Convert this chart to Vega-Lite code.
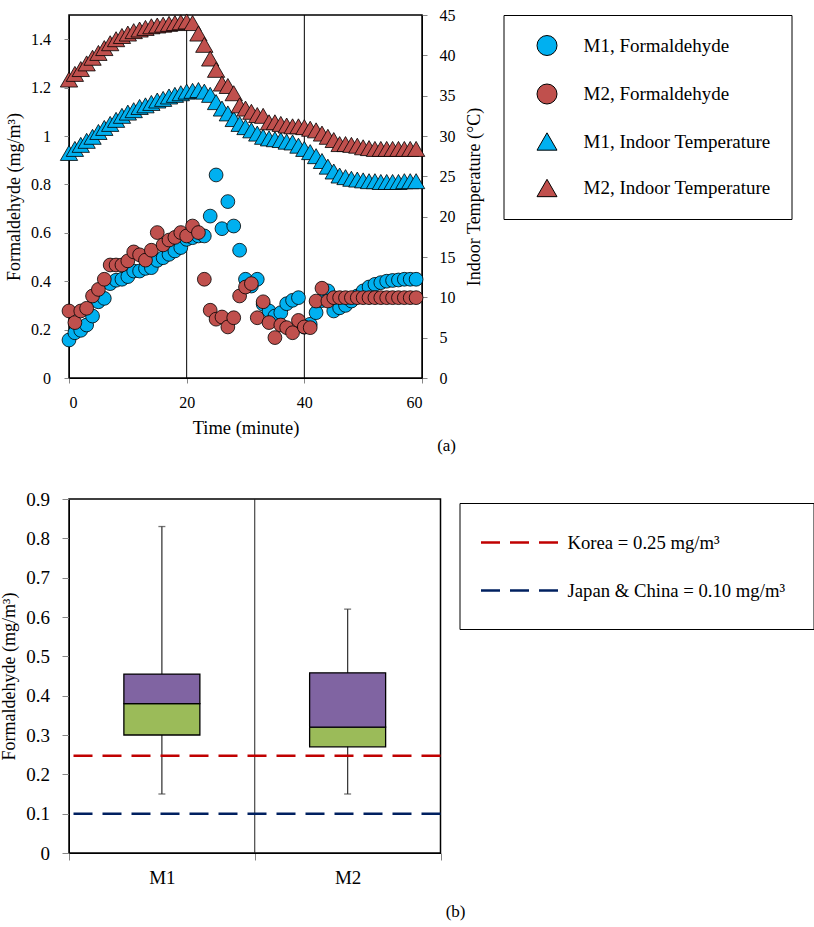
{
"$schema": "https://vega.github.io/schema/vega-lite/v6.json",
"padding": {"left": 0, "top": 6, "right": 5, "bottom": 5},
"spacing": 34,
"config": {
  "font": "Liberation Serif",
  "view": {"stroke": "#000", "strokeWidth": 1.5},
  "axis": {"labelFont": "Liberation Serif", "titleFont": "Liberation Serif", "labelColor": "#000", "titleColor": "#000", "titleFontWeight": "normal", "grid": false, "domainColor": "#000", "tickColor": "#868686"},
  "legend": {"labelFont": "Liberation Serif", "labelColor": "#000"},
  "title": {"font": "Liberation Serif", "fontWeight": "normal", "fontSize": 17, "color": "#000"}
},
"datasets": {
  "form": [
    {"t":0,"series":"M1, Formaldehyde","v":0.157},{"t":1,"series":"M1, Formaldehyde","v":0.187},{"t":2,"series":"M1, Formaldehyde","v":0.197},{"t":3,"series":"M1, Formaldehyde","v":0.219},{"t":4,"series":"M1, Formaldehyde","v":0.256},{"t":5,"series":"M1, Formaldehyde","v":0.315},{"t":6,"series":"M1, Formaldehyde","v":0.329},{"t":7,"series":"M1, Formaldehyde","v":0.39},{"t":8,"series":"M1, Formaldehyde","v":0.404},{"t":9,"series":"M1, Formaldehyde","v":0.408},
    {"t":10,"series":"M1, Formaldehyde","v":0.419},{"t":11,"series":"M1, Formaldehyde","v":0.442},{"t":12,"series":"M1, Formaldehyde","v":0.442},{"t":13,"series":"M1, Formaldehyde","v":0.453},{"t":14,"series":"M1, Formaldehyde","v":0.456},{"t":15,"series":"M1, Formaldehyde","v":0.486},{"t":16,"series":"M1, Formaldehyde","v":0.497},{"t":17,"series":"M1, Formaldehyde","v":0.511},{"t":18,"series":"M1, Formaldehyde","v":0.525},{"t":19,"series":"M1, Formaldehyde","v":0.539},
    {"t":20,"series":"M1, Formaldehyde","v":0.573},{"t":21,"series":"M1, Formaldehyde","v":0.58},{"t":22,"series":"M1, Formaldehyde","v":0.587},{"t":23,"series":"M1, Formaldehyde","v":0.587},{"t":24,"series":"M1, Formaldehyde","v":0.669},{"t":25,"series":"M1, Formaldehyde","v":0.839},{"t":26,"series":"M1, Formaldehyde","v":0.617},{"t":27,"series":"M1, Formaldehyde","v":0.729},{"t":28,"series":"M1, Formaldehyde","v":0.628},{"t":29,"series":"M1, Formaldehyde","v":0.528},
    {"t":30,"series":"M1, Formaldehyde","v":0.408},{"t":31,"series":"M1, Formaldehyde","v":0.38},{"t":32,"series":"M1, Formaldehyde","v":0.408},{"t":33,"series":"M1, Formaldehyde","v":0.305},{"t":34,"series":"M1, Formaldehyde","v":0.277},{"t":35,"series":"M1, Formaldehyde","v":0.256},{"t":36,"series":"M1, Formaldehyde","v":0.27},{"t":37,"series":"M1, Formaldehyde","v":0.307},{"t":38,"series":"M1, Formaldehyde","v":0.321},{"t":39,"series":"M1, Formaldehyde","v":0.332},
    {"t":40,"series":"M1, Formaldehyde","v":0.21},{"t":41,"series":"M1, Formaldehyde","v":0.222},{"t":42,"series":"M1, Formaldehyde","v":0.27},{"t":43,"series":"M1, Formaldehyde","v":0.32},{"t":44,"series":"M1, Formaldehyde","v":0.36},{"t":45,"series":"M1, Formaldehyde","v":0.277},{"t":46,"series":"M1, Formaldehyde","v":0.29},{"t":47,"series":"M1, Formaldehyde","v":0.3},{"t":48,"series":"M1, Formaldehyde","v":0.318},{"t":49,"series":"M1, Formaldehyde","v":0.339},
    {"t":50,"series":"M1, Formaldehyde","v":0.36},{"t":51,"series":"M1, Formaldehyde","v":0.376},{"t":52,"series":"M1, Formaldehyde","v":0.387},{"t":53,"series":"M1, Formaldehyde","v":0.394},{"t":54,"series":"M1, Formaldehyde","v":0.4},{"t":55,"series":"M1, Formaldehyde","v":0.403},{"t":56,"series":"M1, Formaldehyde","v":0.405},{"t":57,"series":"M1, Formaldehyde","v":0.408},{"t":58,"series":"M1, Formaldehyde","v":0.408},{"t":59,"series":"M1, Formaldehyde","v":0.408},
    {"t":0,"series":"M2, Formaldehyde","v":0.277},{"t":1,"series":"M2, Formaldehyde","v":0.229},{"t":2,"series":"M2, Formaldehyde","v":0.277},{"t":3,"series":"M2, Formaldehyde","v":0.288},{"t":4,"series":"M2, Formaldehyde","v":0.339},{"t":5,"series":"M2, Formaldehyde","v":0.366},{"t":6,"series":"M2, Formaldehyde","v":0.408},{"t":7,"series":"M2, Formaldehyde","v":0.467},{"t":8,"series":"M2, Formaldehyde","v":0.467},{"t":9,"series":"M2, Formaldehyde","v":0.467},
    {"t":10,"series":"M2, Formaldehyde","v":0.484},{"t":11,"series":"M2, Formaldehyde","v":0.521},{"t":12,"series":"M2, Formaldehyde","v":0.509},{"t":13,"series":"M2, Formaldehyde","v":0.487},{"t":14,"series":"M2, Formaldehyde","v":0.528},{"t":15,"series":"M2, Formaldehyde","v":0.601},{"t":16,"series":"M2, Formaldehyde","v":0.55},{"t":17,"series":"M2, Formaldehyde","v":0.57},{"t":18,"series":"M2, Formaldehyde","v":0.581},{"t":19,"series":"M2, Formaldehyde","v":0.601},
    {"t":20,"series":"M2, Formaldehyde","v":0.587},{"t":21,"series":"M2, Formaldehyde","v":0.628},{"t":22,"series":"M2, Formaldehyde","v":0.601},{"t":23,"series":"M2, Formaldehyde","v":0.408},{"t":24,"series":"M2, Formaldehyde","v":0.28},{"t":25,"series":"M2, Formaldehyde","v":0.243},{"t":26,"series":"M2, Formaldehyde","v":0.252},{"t":27,"series":"M2, Formaldehyde","v":0.211},{"t":28,"series":"M2, Formaldehyde","v":0.249},{"t":29,"series":"M2, Formaldehyde","v":0.339},
    {"t":30,"series":"M2, Formaldehyde","v":0.376},{"t":31,"series":"M2, Formaldehyde","v":0.39},{"t":32,"series":"M2, Formaldehyde","v":0.249},{"t":33,"series":"M2, Formaldehyde","v":0.315},{"t":34,"series":"M2, Formaldehyde","v":0.229},{"t":35,"series":"M2, Formaldehyde","v":0.167},{"t":36,"series":"M2, Formaldehyde","v":0.219},{"t":37,"series":"M2, Formaldehyde","v":0.208},{"t":38,"series":"M2, Formaldehyde","v":0.187},{"t":39,"series":"M2, Formaldehyde","v":0.238},
    {"t":40,"series":"M2, Formaldehyde","v":0.211},{"t":41,"series":"M2, Formaldehyde","v":0.208},{"t":42,"series":"M2, Formaldehyde","v":0.318},{"t":43,"series":"M2, Formaldehyde","v":0.371},{"t":44,"series":"M2, Formaldehyde","v":0.318},{"t":45,"series":"M2, Formaldehyde","v":0.332},{"t":46,"series":"M2, Formaldehyde","v":0.332},{"t":47,"series":"M2, Formaldehyde","v":0.332},{"t":48,"series":"M2, Formaldehyde","v":0.332},{"t":49,"series":"M2, Formaldehyde","v":0.332},
    {"t":50,"series":"M2, Formaldehyde","v":0.332},{"t":51,"series":"M2, Formaldehyde","v":0.332},{"t":52,"series":"M2, Formaldehyde","v":0.332},{"t":53,"series":"M2, Formaldehyde","v":0.332},{"t":54,"series":"M2, Formaldehyde","v":0.332},{"t":55,"series":"M2, Formaldehyde","v":0.332},{"t":56,"series":"M2, Formaldehyde","v":0.332},{"t":57,"series":"M2, Formaldehyde","v":0.332},{"t":58,"series":"M2, Formaldehyde","v":0.332},{"t":59,"series":"M2, Formaldehyde","v":0.332}
  ],
  "temp": [
    {"t":0,"series":"M1, Indoor Temperature","v":27.9},{"t":1,"series":"M1, Indoor Temperature","v":28.4},{"t":2,"series":"M1, Indoor Temperature","v":28.9},{"t":3,"series":"M1, Indoor Temperature","v":29.4},{"t":4,"series":"M1, Indoor Temperature","v":29.9},{"t":5,"series":"M1, Indoor Temperature","v":30.5},{"t":6,"series":"M1, Indoor Temperature","v":31.0},{"t":7,"series":"M1, Indoor Temperature","v":31.5},{"t":8,"series":"M1, Indoor Temperature","v":32.0},{"t":9,"series":"M1, Indoor Temperature","v":32.5},
    {"t":10,"series":"M1, Indoor Temperature","v":32.9},{"t":11,"series":"M1, Indoor Temperature","v":33.2},{"t":12,"series":"M1, Indoor Temperature","v":33.6},{"t":13,"series":"M1, Indoor Temperature","v":33.8},{"t":14,"series":"M1, Indoor Temperature","v":34.1},{"t":15,"series":"M1, Indoor Temperature","v":34.4},{"t":16,"series":"M1, Indoor Temperature","v":34.6},{"t":17,"series":"M1, Indoor Temperature","v":34.9},{"t":18,"series":"M1, Indoor Temperature","v":35.1},{"t":19,"series":"M1, Indoor Temperature","v":35.3},
    {"t":20,"series":"M1, Indoor Temperature","v":35.5},{"t":21,"series":"M1, Indoor Temperature","v":35.6},{"t":22,"series":"M1, Indoor Temperature","v":35.7},{"t":23,"series":"M1, Indoor Temperature","v":35.5},{"t":24,"series":"M1, Indoor Temperature","v":35.1},{"t":25,"series":"M1, Indoor Temperature","v":34.2},{"t":26,"series":"M1, Indoor Temperature","v":33.4},{"t":27,"series":"M1, Indoor Temperature","v":32.8},{"t":28,"series":"M1, Indoor Temperature","v":32.1},{"t":29,"series":"M1, Indoor Temperature","v":31.5},
    {"t":30,"series":"M1, Indoor Temperature","v":31.1},{"t":31,"series":"M1, Indoor Temperature","v":30.7},{"t":32,"series":"M1, Indoor Temperature","v":30.3},{"t":33,"series":"M1, Indoor Temperature","v":29.9},{"t":34,"series":"M1, Indoor Temperature","v":29.7},{"t":35,"series":"M1, Indoor Temperature","v":29.6},{"t":36,"series":"M1, Indoor Temperature","v":29.5},{"t":37,"series":"M1, Indoor Temperature","v":29.3},{"t":38,"series":"M1, Indoor Temperature","v":29.2},{"t":39,"series":"M1, Indoor Temperature","v":28.8},
    {"t":40,"series":"M1, Indoor Temperature","v":28.4},{"t":41,"series":"M1, Indoor Temperature","v":28.0},{"t":42,"series":"M1, Indoor Temperature","v":27.5},{"t":43,"series":"M1, Indoor Temperature","v":26.9},{"t":44,"series":"M1, Indoor Temperature","v":26.2},{"t":45,"series":"M1, Indoor Temperature","v":25.6},{"t":46,"series":"M1, Indoor Temperature","v":25.1},{"t":47,"series":"M1, Indoor Temperature","v":24.9},{"t":48,"series":"M1, Indoor Temperature","v":24.7},{"t":49,"series":"M1, Indoor Temperature","v":24.6},
    {"t":50,"series":"M1, Indoor Temperature","v":24.5},{"t":51,"series":"M1, Indoor Temperature","v":24.4},{"t":52,"series":"M1, Indoor Temperature","v":24.4},{"t":53,"series":"M1, Indoor Temperature","v":24.3},{"t":54,"series":"M1, Indoor Temperature","v":24.3},{"t":55,"series":"M1, Indoor Temperature","v":24.3},{"t":56,"series":"M1, Indoor Temperature","v":24.3},{"t":57,"series":"M1, Indoor Temperature","v":24.4},{"t":58,"series":"M1, Indoor Temperature","v":24.4},{"t":59,"series":"M1, Indoor Temperature","v":24.4},
    {"t":0,"series":"M2, Indoor Temperature","v":37.0},{"t":1,"series":"M2, Indoor Temperature","v":37.7},{"t":2,"series":"M2, Indoor Temperature","v":38.3},{"t":3,"series":"M2, Indoor Temperature","v":39.0},{"t":4,"series":"M2, Indoor Temperature","v":39.7},{"t":5,"series":"M2, Indoor Temperature","v":40.3},{"t":6,"series":"M2, Indoor Temperature","v":40.9},{"t":7,"series":"M2, Indoor Temperature","v":41.5},{"t":8,"series":"M2, Indoor Temperature","v":42.0},{"t":9,"series":"M2, Indoor Temperature","v":42.4},
    {"t":10,"series":"M2, Indoor Temperature","v":42.7},{"t":11,"series":"M2, Indoor Temperature","v":43.0},{"t":12,"series":"M2, Indoor Temperature","v":43.2},{"t":13,"series":"M2, Indoor Temperature","v":43.4},{"t":14,"series":"M2, Indoor Temperature","v":43.6},{"t":15,"series":"M2, Indoor Temperature","v":43.7},{"t":16,"series":"M2, Indoor Temperature","v":43.8},{"t":17,"series":"M2, Indoor Temperature","v":43.9},{"t":18,"series":"M2, Indoor Temperature","v":44.0},{"t":19,"series":"M2, Indoor Temperature","v":44.1},
    {"t":20,"series":"M2, Indoor Temperature","v":44.2},{"t":21,"series":"M2, Indoor Temperature","v":44.0},{"t":22,"series":"M2, Indoor Temperature","v":42.7},{"t":23,"series":"M2, Indoor Temperature","v":41.3},{"t":24,"series":"M2, Indoor Temperature","v":39.6},{"t":25,"series":"M2, Indoor Temperature","v":38.2},{"t":26,"series":"M2, Indoor Temperature","v":36.5},{"t":27,"series":"M2, Indoor Temperature","v":36.2},{"t":28,"series":"M2, Indoor Temperature","v":35.3},{"t":29,"series":"M2, Indoor Temperature","v":33.8},
    {"t":30,"series":"M2, Indoor Temperature","v":33.4},{"t":31,"series":"M2, Indoor Temperature","v":33.0},{"t":32,"series":"M2, Indoor Temperature","v":32.6},{"t":33,"series":"M2, Indoor Temperature","v":32.5},{"t":34,"series":"M2, Indoor Temperature","v":31.7},{"t":35,"series":"M2, Indoor Temperature","v":31.7},{"t":36,"series":"M2, Indoor Temperature","v":31.5},{"t":37,"series":"M2, Indoor Temperature","v":31.3},{"t":38,"series":"M2, Indoor Temperature","v":31.2},{"t":39,"series":"M2, Indoor Temperature","v":31.2},
    {"t":40,"series":"M2, Indoor Temperature","v":31.1},{"t":41,"series":"M2, Indoor Temperature","v":30.9},{"t":42,"series":"M2, Indoor Temperature","v":30.7},{"t":43,"series":"M2, Indoor Temperature","v":30.3},{"t":44,"series":"M2, Indoor Temperature","v":29.9},{"t":45,"series":"M2, Indoor Temperature","v":29.5},{"t":46,"series":"M2, Indoor Temperature","v":29.0},{"t":47,"series":"M2, Indoor Temperature","v":29.0},{"t":48,"series":"M2, Indoor Temperature","v":28.9},{"t":49,"series":"M2, Indoor Temperature","v":28.8},
    {"t":50,"series":"M2, Indoor Temperature","v":28.6},{"t":51,"series":"M2, Indoor Temperature","v":28.5},{"t":52,"series":"M2, Indoor Temperature","v":28.4},{"t":53,"series":"M2, Indoor Temperature","v":28.4},{"t":54,"series":"M2, Indoor Temperature","v":28.4},{"t":55,"series":"M2, Indoor Temperature","v":28.4},{"t":56,"series":"M2, Indoor Temperature","v":28.4},{"t":57,"series":"M2, Indoor Temperature","v":28.4},{"t":58,"series":"M2, Indoor Temperature","v":28.4},{"t":59,"series":"M2, Indoor Temperature","v":28.4}
  ],
  "box": [
    {"group":"M1","min":0.15,"q1":0.30,"median":0.38,"q3":0.455,"max":0.83},
    {"group":"M2","min":0.15,"q1":0.27,"median":0.32,"q3":0.458,"max":0.62}
  ],
  "std": [
    {"standard":"Korea = 0.25 mg/m³","level":0.247},
    {"standard":"Japan & China = 0.10 mg/m³","level":0.1}
  ]
},
"vconcat": [
  {
    "width": 353, "height": 363,
    "title": {"text": "(a)", "orient": "bottom", "anchor": "end", "frame": "group", "dx": 34, "offset": 1},
    "layer": [
      {
        "data": {"values": [{"t": 20}, {"t": 40}]},
        "mark": {"type": "rule", "color": "#000", "strokeWidth": 1},
        "encoding": {
          "x": {"field": "t", "type": "quantitative", "scale": {"domain": [0, 60], "nice": false},
                "axis": {"values": [0, 20, 40, 60], "title": "Time (minute)", "labelFontSize": 16, "titleFontSize": 18.5, "tickSize": 5, "labelPadding": 11, "titlePadding": 8, "labelAngle": 0}}
        }
      },
      {
        "data": {"name": "temp"},
        "mark": {"type": "point", "filled": true, "opacity": 1, "stroke": "#000", "strokeWidth": 0.8, "size": 300},
        "encoding": {
          "x": {"field": "t", "type": "quantitative", "scale": {"domain": [0, 60], "nice": false},
                "axis": {"values": [0, 20, 40, 60], "title": "Time (minute)", "labelFontSize": 16, "titleFontSize": 18.5, "tickSize": 5, "labelPadding": 11, "titlePadding": 8, "labelAngle": 0}},
          "y": {"field": "v", "type": "quantitative", "scale": {"domain": [0, 45], "nice": false},
                "axis": {"orient": "right", "values": [0, 5, 10, 15, 20, 25, 30, 35, 40, 45], "title": "Indoor Temperature (°C)", "titleAngle": 270, "titleBaseline": "top", "labelFontSize": 16, "titleFontSize": 18, "tickSize": 5, "labelPadding": 12, "titlePadding": 10}},
          "color": {"field": "series", "type": "nominal",
                    "scale": {"domain": ["M1, Formaldehyde", "M2, Formaldehyde", "M1, Indoor Temperature", "M2, Indoor Temperature"], "range": ["#00B0F0", "#C0504D", "#00B0F0", "#C0504D"]},
                    "legend": {"orient": "none", "legendX": 434.5, "legendY": 0, "title": null, "symbolSize": 400, "symbolStrokeColor": "#000", "symbolStrokeWidth": 1, "labelFontSize": 19, "labelOffset": 26, "symbolOffset": 13, "padding": 20, "rowPadding": 23.5, "strokeColor": "#000", "fillColor": "#fff", "labelLimit": 400}},
          "shape": {"field": "series", "type": "nominal",
                    "scale": {"domain": ["M1, Formaldehyde", "M2, Formaldehyde", "M1, Indoor Temperature", "M2, Indoor Temperature"], "range": ["circle", "circle", "triangle-up", "triangle-up"]},
                    "legend": {"orient": "none", "legendX": 434.5, "legendY": 0, "title": null, "symbolSize": 400, "symbolStrokeColor": "#000", "symbolStrokeWidth": 1, "labelFontSize": 19, "labelOffset": 26, "symbolOffset": 13, "padding": 20, "rowPadding": 23.5, "strokeColor": "#000", "fillColor": "#fff", "labelLimit": 400}}
        }
      },
      {
        "data": {"name": "form"},
        "mark": {"type": "point", "filled": true, "opacity": 1, "stroke": "#000", "strokeWidth": 0.8, "size": 190},
        "encoding": {
          "x": {"field": "t", "type": "quantitative", "scale": {"domain": [0, 60], "nice": false},
                "axis": {"values": [0, 20, 40, 60], "title": "Time (minute)", "labelFontSize": 16, "titleFontSize": 18.5, "tickSize": 5, "labelPadding": 11, "titlePadding": 8, "labelAngle": 0}},
          "y": {"field": "v", "type": "quantitative", "scale": {"domain": [0, 1.5], "nice": false},
                "axis": {"orient": "left", "values": [0, 0.2, 0.4, 0.6, 0.8, 1, 1.2, 1.4], "format": "~g", "title": "Formaldehyde (mg/m³)", "labelFontSize": 16, "titleFontSize": 18, "tickSize": 5, "labelPadding": 13.5, "titlePadding": 7.5}},
          "color": {"field": "series", "type": "nominal",
                    "scale": {"domain": ["M1, Formaldehyde", "M2, Formaldehyde", "M1, Indoor Temperature", "M2, Indoor Temperature"], "range": ["#00B0F0", "#C0504D", "#00B0F0", "#C0504D"]},
                    "legend": {"orient": "none", "legendX": 434.5, "legendY": 0, "title": null, "symbolSize": 400, "symbolStrokeColor": "#000", "symbolStrokeWidth": 1, "labelFontSize": 19, "labelOffset": 26, "symbolOffset": 13, "padding": 20, "rowPadding": 23.5, "strokeColor": "#000", "fillColor": "#fff", "labelLimit": 400}},
          "shape": {"field": "series", "type": "nominal",
                    "scale": {"domain": ["M1, Formaldehyde", "M2, Formaldehyde", "M1, Indoor Temperature", "M2, Indoor Temperature"], "range": ["circle", "circle", "triangle-up", "triangle-up"]},
                    "legend": {"orient": "none", "legendX": 434.5, "legendY": 0, "title": null, "symbolSize": 400, "symbolStrokeColor": "#000", "symbolStrokeWidth": 1, "labelFontSize": 19, "labelOffset": 26, "symbolOffset": 13, "padding": 20, "rowPadding": 23.5, "strokeColor": "#000", "fillColor": "#fff", "labelLimit": 400}}
        }
      }
    ],
    "resolve": {"scale": {"y": "independent"}}
  },
  {
    "width": 371.5, "height": 354,
    "title": {"text": "(b)", "orient": "bottom", "anchor": "end", "frame": "group", "dx": 25, "offset": 17},
    "layer": [
      {
        "data": {"name": "box"},
        "mark": {"type": "rule", "color": "#3a3a3a", "strokeWidth": 1.3},
        "encoding": {
          "x": {"field": "group", "type": "nominal", "scale": {"domain": ["M1", "M2"], "paddingInner": 0, "paddingOuter": 0},
                "axis": {"title": null, "labelAngle": 0, "tickBand": "extent", "labelFontSize": 19, "tickSize": 7, "labelPadding": 8}},
          "y": {"field": "min", "type": "quantitative", "scale": {"domain": [0, 0.9], "nice": false},
                "axis": {"values": [0, 0.1, 0.2, 0.3, 0.4, 0.5, 0.6, 0.7, 0.8, 0.9], "format": "~g", "title": "Formaldehyde (mg/m³)", "labelFontSize": 19, "titleFontSize": 18, "tickSize": 7, "labelPadding": 12.5, "titlePadding": 7}},
          "y2": {"field": "max"}
        }
      },
      {
        "data": {"name": "box"},
        "mark": {"type": "tick", "orient": "horizontal", "size": 7, "thickness": 1.3, "color": "#3a3a3a"},
        "encoding": {
          "x": {"field": "group", "type": "nominal", "scale": {"domain": ["M1", "M2"], "paddingInner": 0, "paddingOuter": 0},
                "axis": {"title": null, "labelAngle": 0, "tickBand": "extent", "labelFontSize": 19, "tickSize": 7, "labelPadding": 8}},
          "y": {"field": "min", "type": "quantitative", "scale": {"domain": [0, 0.9], "nice": false},
                "axis": {"values": [0, 0.1, 0.2, 0.3, 0.4, 0.5, 0.6, 0.7, 0.8, 0.9], "format": "~g", "title": "Formaldehyde (mg/m³)", "labelFontSize": 19, "titleFontSize": 18, "tickSize": 7, "labelPadding": 12.5, "titlePadding": 7}}
        }
      },
      {
        "data": {"name": "box"},
        "mark": {"type": "tick", "orient": "horizontal", "size": 7, "thickness": 1.3, "color": "#3a3a3a"},
        "encoding": {
          "x": {"field": "group", "type": "nominal", "scale": {"domain": ["M1", "M2"], "paddingInner": 0, "paddingOuter": 0},
                "axis": {"title": null, "labelAngle": 0, "tickBand": "extent", "labelFontSize": 19, "tickSize": 7, "labelPadding": 8}},
          "y": {"field": "max", "type": "quantitative", "scale": {"domain": [0, 0.9], "nice": false},
                "axis": {"values": [0, 0.1, 0.2, 0.3, 0.4, 0.5, 0.6, 0.7, 0.8, 0.9], "format": "~g", "title": "Formaldehyde (mg/m³)", "labelFontSize": 19, "titleFontSize": 18, "tickSize": 7, "labelPadding": 12.5, "titlePadding": 7}}
        }
      },
      {
        "data": {"name": "box"},
        "mark": {"type": "bar", "size": 76, "fill": "#9BBB59", "stroke": "#000", "strokeWidth": 1.3},
        "encoding": {
          "x": {"field": "group", "type": "nominal", "scale": {"domain": ["M1", "M2"], "paddingInner": 0, "paddingOuter": 0},
                "axis": {"title": null, "labelAngle": 0, "tickBand": "extent", "labelFontSize": 19, "tickSize": 7, "labelPadding": 8}},
          "y": {"field": "q1", "type": "quantitative", "scale": {"domain": [0, 0.9], "nice": false},
                "axis": {"values": [0, 0.1, 0.2, 0.3, 0.4, 0.5, 0.6, 0.7, 0.8, 0.9], "format": "~g", "title": "Formaldehyde (mg/m³)", "labelFontSize": 19, "titleFontSize": 18, "tickSize": 7, "labelPadding": 12.5, "titlePadding": 7}},
          "y2": {"field": "median"}
        }
      },
      {
        "data": {"name": "box"},
        "mark": {"type": "bar", "size": 76, "fill": "#8064A2", "stroke": "#000", "strokeWidth": 1.3},
        "encoding": {
          "x": {"field": "group", "type": "nominal", "scale": {"domain": ["M1", "M2"], "paddingInner": 0, "paddingOuter": 0},
                "axis": {"title": null, "labelAngle": 0, "tickBand": "extent", "labelFontSize": 19, "tickSize": 7, "labelPadding": 8}},
          "y": {"field": "median", "type": "quantitative", "scale": {"domain": [0, 0.9], "nice": false},
                "axis": {"values": [0, 0.1, 0.2, 0.3, 0.4, 0.5, 0.6, 0.7, 0.8, 0.9], "format": "~g", "title": "Formaldehyde (mg/m³)", "labelFontSize": 19, "titleFontSize": 18, "tickSize": 7, "labelPadding": 12.5, "titlePadding": 7}},
          "y2": {"field": "q3"}
        }
      },
      {
        "data": {"values": [{"group": "M2"}]},
        "mark": {"type": "rule", "color": "#222", "strokeWidth": 1},
        "encoding": {
          "x": {"field": "group", "type": "nominal", "bandPosition": 0, "scale": {"domain": ["M1", "M2"], "paddingInner": 0, "paddingOuter": 0},
                "axis": {"title": null, "labelAngle": 0, "tickBand": "extent", "labelFontSize": 19, "tickSize": 7, "labelPadding": 8}}
        }
      },
      {
        "data": {"name": "std"},
        "mark": {"type": "rule", "strokeWidth": 2.5, "strokeDash": [19, 10]},
        "encoding": {
          "y": {"field": "level", "type": "quantitative", "scale": {"domain": [0, 0.9], "nice": false},
                "axis": {"values": [0, 0.1, 0.2, 0.3, 0.4, 0.5, 0.6, 0.7, 0.8, 0.9], "format": "~g", "title": "Formaldehyde (mg/m³)", "labelFontSize": 19, "titleFontSize": 18, "tickSize": 7, "labelPadding": 12.5, "titlePadding": 7}},
          "color": {"field": "standard", "type": "nominal",
                    "scale": {"domain": ["Korea = 0.25 mg/m³", "Japan & China = 0.10 mg/m³"], "range": ["#C00000", "#002060"]},
                    "legend": {"orient": "none", "legendX": 390.5, "legendY": 4, "title": null, "symbolType": "M-3.85,0H3.85", "symbolSize": 400, "symbolStrokeWidth": 2.5, "symbolDash": [19, 10], "symbolFillColor": "transparent", "symbolOffset": 20.5, "labelOffset": 36.5, "padding": 28, "rowPadding": 26, "labelFontSize": 18.7, "strokeColor": "#000", "fillColor": "#fff", "labelLimit": 400}}
        }
      }
    ]
  }
],
"resolve": {"scale": {"color": "independent", "shape": "independent"}, "legend": {"color": "independent", "shape": "independent"}}
}
